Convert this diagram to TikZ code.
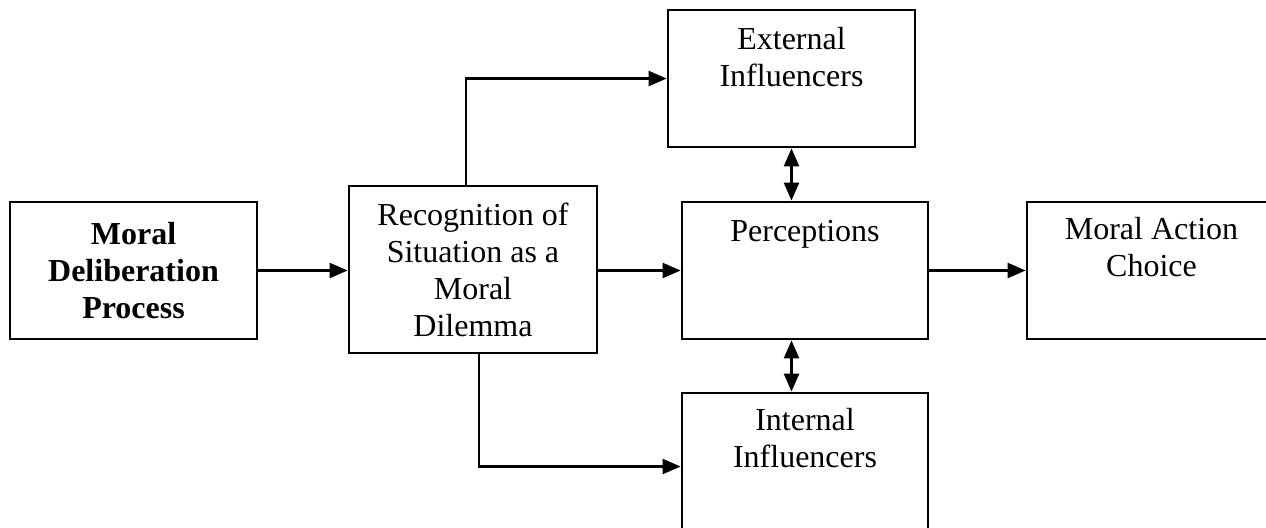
\documentclass[tikz,border=0pt]{standalone}
\usepackage{fontspec}
\setmainfont{Liberation Serif}
\usetikzlibrary{arrows.meta,calc}

\begin{document}
\begin{tikzpicture}[x=0.5pt, y=-0.5pt, >={Triangle[length=9pt,width=7.5pt]},
  box/.style={draw, line width=1.4pt, inner sep=0pt, align=center,
    font=\fontsize{16}{18.5}\selectfont},
  lbl/.style={anchor=base, align=center, inner sep=0pt,
    font=\fontsize{16}{18.5}\selectfont},
  link/.style={->, line width=1.2pt}]

\useasboundingbox (0,0) rectangle (1266,527);
\clip (0,0) rectangle (1266,527);

\node[box, minimum width=123.5pt, minimum height=68.5pt] (mdp) at (133.5,270.5)
  {\textbf{Moral}\\\textbf{Deliberation}\\\textbf{Process}};
\node[box, minimum width=124pt, minimum height=83.5pt] (rec) at (473,269.5)
  {Recognition of\\Situation as a\\Moral\\Dilemma};
\node[box, minimum width=123.5pt, minimum height=68.5pt] (ext) at (791.5,78.5) {};
\node[box, minimum width=123pt, minimum height=68.5pt] (per) at (805,270.5) {};
\node[box, minimum width=123pt, minimum height=73.5pt] (int) at (805,466.5) {};
\node[box, minimum width=126.5pt, minimum height=68.5pt] (mac) at (1153.5,270.5) {};

\node[lbl] (ext-lbl) at ([yshift=-39pt]ext.north) {External\\Influencers};
\node[lbl] (per-lbl) at ([yshift=-20.5pt]per.north) {Perceptions};
\node[lbl] (int-lbl) at ([yshift=-38pt]int.north) {Internal\\Influencers};
\node[lbl] (mac-lbl) at ([yshift=-38pt,xshift=-1pt]mac.north) {Moral Action\\Choice};

\draw[link] (mdp.east) -- (mdp.east -| rec.west);
\draw[link] (per.west -| rec.east) -- (per.west);
\draw[link] (per.east) -- (mac.west);
\draw[link] ([xshift=-3.5pt]rec.north) |- (ext.west);
\draw[link] ([xshift=3pt]rec.south) |- (int.west);
\draw[link, <->] (ext.south) -- (ext.south |- per.north);
\draw[link, <->] (per.south -| ext.south) -- (int.north -| ext.south);

\end{tikzpicture}
\end{document}
